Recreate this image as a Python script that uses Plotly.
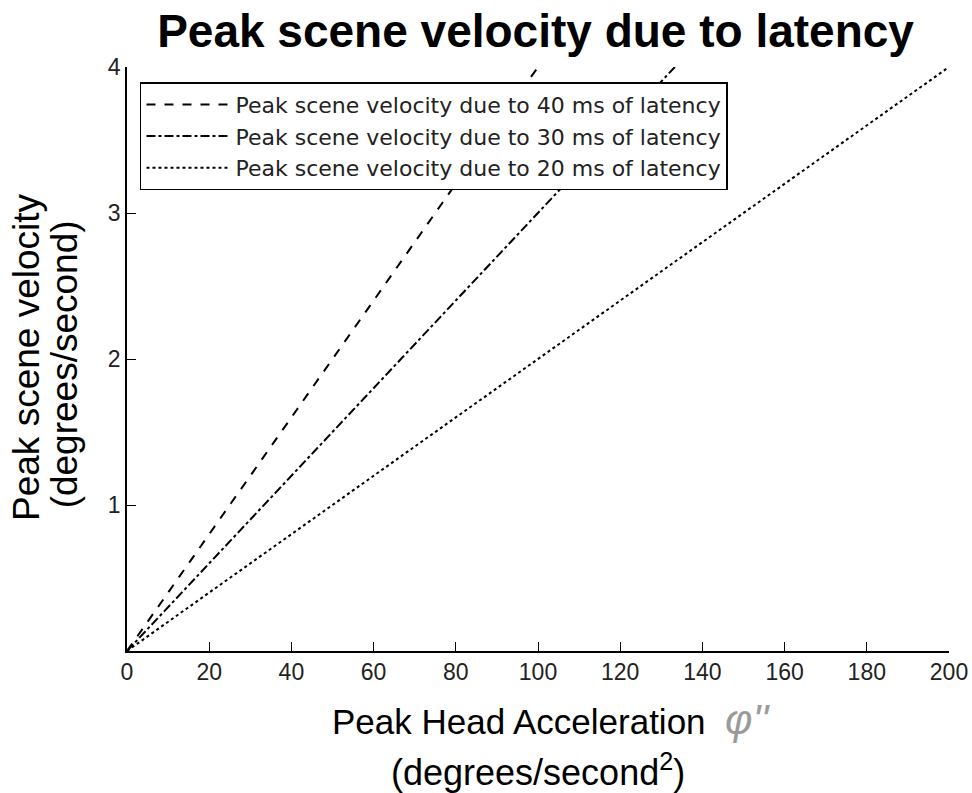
import plotly.graph_objects as go

# Data
names = ["Peak scene velocity due to 40 ms of latency",
         "Peak scene velocity due to 30 ms of latency",
         "Peak scene velocity due to 20 ms of latency"]
accel_40 = [0, 100]
vel_40 = [0, 4]
accel_30 = [0, 133.3]
vel_30 = [0, 4]
accel_20 = [0, 200]
vel_20 = [0, 4]
x_ticks = [0, 20, 40, 60, 80, 100, 120, 140, 160, 180, 200]
y_ticks = [1, 2, 3, 4]

dashes = ["dash", "dashdot", "dot"]
xs = [accel_40, accel_30, accel_20]
ys = [vel_40, vel_30, vel_20]

fig = go.Figure()
for n, x, y, d in zip(names, xs, ys, dashes):
    fig.add_trace(go.Scatter(x=x, y=y, mode="lines", name=n,
                             line=dict(color="black", width=2, dash=d)))

font = "Liberation Sans, Arial, sans-serif"
fig.update_layout(
    width=972, height=793,
    margin=dict(l=127, r=23, t=67, b=142),
    paper_bgcolor="white", plot_bgcolor="white",
    font=dict(family=font, color="black"),
    title=dict(text="<b>Peak scene velocity due to latency</b>",
               x=0.551, xanchor="center", y=0.961, yanchor="middle",
               font=dict(size=46, color="black")),
    showlegend=True,
    legend=dict(x=0.0158, y=0.974, xanchor="left", yanchor="top",
                bgcolor="white", bordercolor="black", borderwidth=1.5,
                font=dict(size=22, color="#222", family="DejaVu Sans, sans-serif"),
                itemwidth=84, tracegroupgap=0),
    xaxis=dict(range=[0, 200], tickvals=x_ticks, showline=True, automargin=False,
               linecolor="black", linewidth=1.5, ticks="inside", ticklen=9,
               tickcolor="black", showgrid=False, zeroline=False,
               tickfont=dict(size=23, color="#222")),
    yaxis=dict(range=[0, 4], tickvals=y_ticks, showline=True, automargin=False,
               linecolor="black", linewidth=1.5, ticks="inside", ticklen=9,
               tickcolor="black", showgrid=False, zeroline=False,
               tickfont=dict(size=23, color="#222")),
    annotations=[
        dict(text="Peak Head Acceleration  <i><span style='color:#9a9a9a;font-size:42px'>φ''</span></i>",
             xref="paper", yref="paper", x=0.516, y=-0.118,
             xanchor="center", yanchor="middle", showarrow=False,
             font=dict(size=35, color="black")),
        dict(text="(degrees/second<sup>2</sup>)",
             xref="paper", yref="paper", x=0.5, y=-0.203,
             xanchor="center", yanchor="middle", showarrow=False,
             font=dict(size=36, color="black")),
        dict(text="Peak scene velocity",
             xref="paper", yref="paper", x=-0.122, y=0.503, textangle=-90,
             xanchor="center", yanchor="middle", showarrow=False,
             font=dict(size=37, color="black")),
        dict(text="(degrees/second)",
             xref="paper", yref="paper", x=-0.076, y=0.49, textangle=-90,
             xanchor="center", yanchor="middle", showarrow=False,
             font=dict(size=37, color="black")),
    ],
)

fig.write_html("out.html", config={"displayModeBar": False},
               post_script="document.body.style.margin='0';")
